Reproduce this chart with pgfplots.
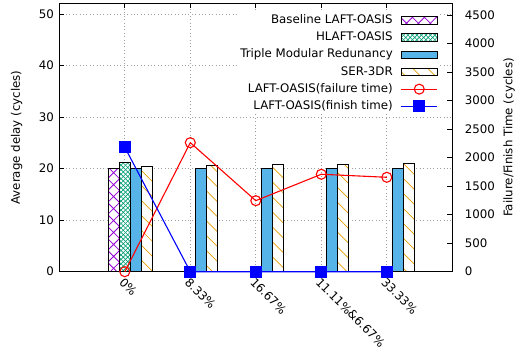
\documentclass[border=0pt]{standalone}
\usepackage{fontspec}
\setmainfont{DejaVu Sans}
\usepackage{pgfplots}
\pgfplotsset{compat=1.18}
\usetikzlibrary{patterns}

\definecolor{cpurple}{HTML}{9400D3}
\definecolor{cgreen}{HTML}{009E73}
\definecolor{cblue}{HTML}{56B4E9}
\definecolor{corange}{HTML}{E69F00}
\definecolor{gridgray}{HTML}{A0A0A0}

\pgfdeclarepatternformonly{bigcross}{\pgfqpoint{-1pt}{-1pt}}{\pgfqpoint{13pt}{13pt}}{\pgfqpoint{12pt}{12pt}}{%
  \pgfsetlinewidth{0.8pt}%
  \pgfpathmoveto{\pgfqpoint{0pt}{0pt}}\pgfpathlineto{\pgfqpoint{12pt}{12pt}}%
  \pgfpathmoveto{\pgfqpoint{0pt}{12pt}}\pgfpathlineto{\pgfqpoint{12pt}{0pt}}%
  \pgfusepath{stroke}}
\pgfdeclarepatternformonly{smallcross}{\pgfqpoint{-1pt}{-1pt}}{\pgfqpoint{5.5pt}{5.5pt}}{\pgfqpoint{4.5pt}{4.5pt}}{%
  \pgfsetlinewidth{0.6pt}%
  \pgfpathmoveto{\pgfqpoint{0pt}{0pt}}\pgfpathlineto{\pgfqpoint{4.5pt}{4.5pt}}%
  \pgfpathmoveto{\pgfqpoint{0pt}{4.5pt}}\pgfpathlineto{\pgfqpoint{4.5pt}{0pt}}%
  \pgfusepath{stroke}}
\pgfdeclarepatternformonly{diagback}{\pgfqpoint{-1pt}{-1pt}}{\pgfqpoint{16pt}{16pt}}{\pgfqpoint{15pt}{15pt}}{%
  \pgfsetlinewidth{0.7pt}%
  \pgfpathmoveto{\pgfqpoint{0pt}{15pt}}\pgfpathlineto{\pgfqpoint{15pt}{0pt}}%
  \pgfusepath{stroke}}

\pgfplotsset{
  sbase/.style={draw=black, line width=0.8bp, fill=white, postaction={pattern=bigcross, pattern color=cpurple}},
  shlaft/.style={draw=black, line width=0.8bp, fill=white, postaction={pattern=smallcross, pattern color=cgreen}},
  stmr/.style={draw=black, line width=0.8bp, fill=cblue},
  sser/.style={draw=black, line width=0.8bp, fill=white, postaction={pattern=diagback, pattern color=corange}},
  barleg/.style={legend image code/.code={\draw[##1] (0bp,-3.8bp) rectangle (36bp,3.8bp);}},
  lineleg/.style={legend image code/.code={\draw[mark repeat=2,mark phase=2,##1] plot coordinates {(0bp,0bp) (18bp,0bp) (36bp,0bp)};}},
}

\begin{document}
\begin{tikzpicture}[font=\fontsize{11.8bp}{14bp}\selectfont]
\useasboundingbox (-59.3bp,-86.3bp) rectangle (460.7bp,271.7bp);
\begin{axis}[
  scale only axis, width=393bp, height=268.4bp,
  xmin=-1, xmax=5, ymin=0, ymax=52.08,
  xtick={0,1,2,3,4},
  xticklabels={0\%,8.33\%,16.67\%,11.11\%\&6.67\%,33.33\%},
  xticklabel style={xshift=0bp, yshift=-5bp, rotate=-45, anchor=north west, inner sep=0bp},
  ytick={0,10,20,30,40,50},
  ytick pos=left,
  yticklabel style={xshift=-2bp},
  tick align=inside, major tick length=5bp,
  tick style={black, line width=0.8bp},
  axis line style={line width=0.8bp},
  xmajorgrids, ymajorgrids,
  major grid style={gridgray, line width=0.7bp, dash pattern=on 0.8bp off 2.6bp},
  /pgf/number format/assume math mode=true,
  ylabel={Average delay (cycles)},
  every axis y label/.style={at={(axis description cs:-0.1084,0.5)}, rotate=90, anchor=center},
]
\addplot[ybar, bar width=0.1667, bar shift=-0.1667, sbase] coordinates {(0,20.06)};
\addplot[ybar, bar width=0.1667, bar shift=0, shlaft] coordinates {(0,21.15)};
\addplot[ybar, bar width=0.1667, bar shift=0.1667, stmr] coordinates {(0,20.06) (1,20.06) (2,20.06) (3,20.06) (4,20.06)};
\addplot[ybar, bar width=0.1667, bar shift=0.3333, sser] coordinates {(0,20.5) (1,20.7) (2,20.84) (3,20.84) (4,21.1)};
\end{axis}
\begin{axis}[
  scale only axis, width=393bp, height=268.4bp,
  xmin=-1, xmax=5, ymin=0, ymax=4705,
  axis x line=none,
  axis y line*=right,
  ytick={0,500,...,4500},
  scaled y ticks=false,
  /pgf/number format/1000 sep={},
  /pgf/number format/assume math mode=true,
  tick align=inside, major tick length=5bp,
  tick style={black, line width=0.8bp},
  axis line style={line width=0.8bp},
  yticklabel style={xshift=9bp},
  clip=false,
  ylabel={Failure/Finish Time (cycles)},
  every axis y label/.style={at={(axis description cs:1.1443,0.5)}, rotate=90, anchor=center},
  legend cell align=right,
  legend plot pos=right,
  legend style={at={(1,1)}, anchor=north east, xshift=-12.3bp, yshift=-9bp,
    draw=none, fill=white, inner sep=2bp, row sep=5.5bp, column sep=8bp,
    nodes={inner sep=0bp, text height=9bp, text depth=2.7bp}},
]
\addlegendimage{barleg, sbase}
\addlegendentry{Baseline LAFT-OASIS}
\addlegendimage{barleg, shlaft}
\addlegendentry{HLAFT-OASIS}
\addlegendimage{barleg, stmr}
\addlegendentry{Triple Modular Redunancy}
\addlegendimage{barleg, sser}
\addlegendentry{SER-3DR}
\addplot[lineleg, color=red, line width=1.1bp, mark=o, mark size=5bp, mark options={line width=1.1bp}]
  coordinates {(0,0) (1,2262) (2,1245) (3,1708) (4,1655)};
\addlegendentry{LAFT-OASIS(failure time)}
\addplot[lineleg, color=blue, line width=1.1bp, mark=square*, mark size=5.5bp]
  coordinates {(0,2181) (1,0) (2,0) (3,0) (4,0)};
\addlegendentry{LAFT-OASIS(finish time)}
\end{axis}
\end{tikzpicture}
\end{document}
